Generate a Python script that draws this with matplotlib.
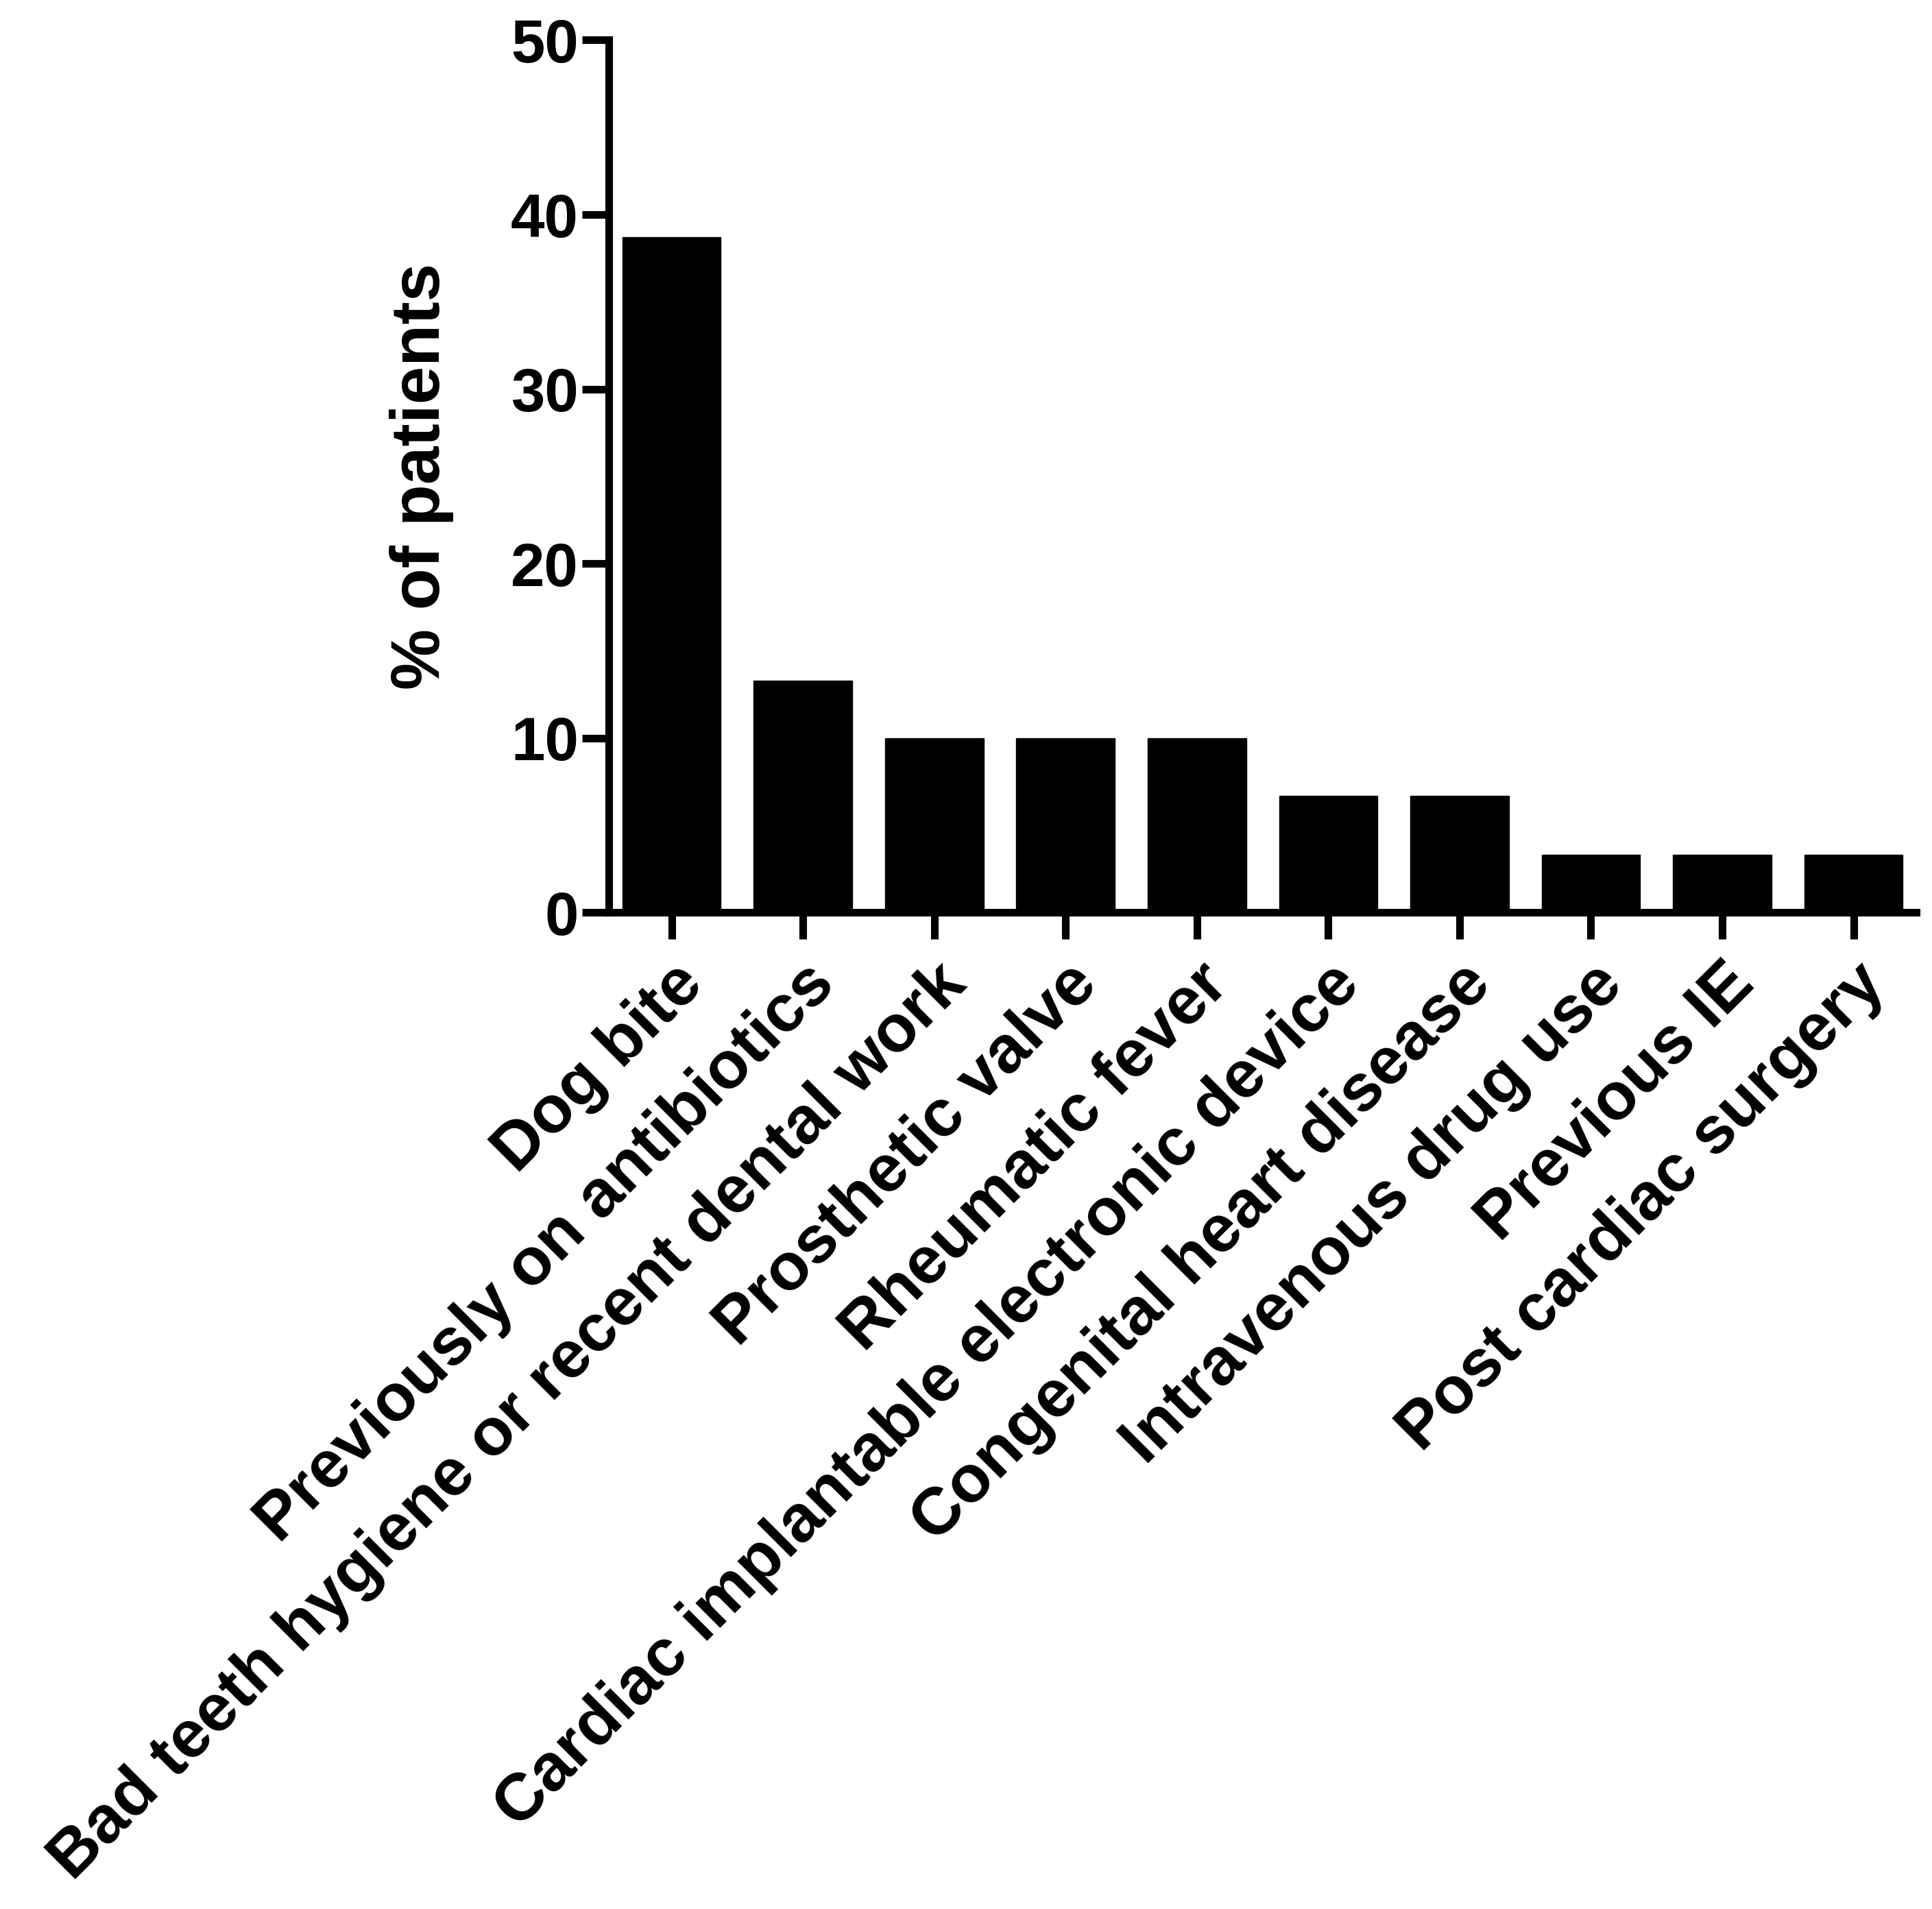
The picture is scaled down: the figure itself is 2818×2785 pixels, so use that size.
import matplotlib
matplotlib.use("Agg")
import matplotlib.pyplot as plt

# DATA ------------------------------------------------------------------------ #
categories = [
    "Dog bite",
    "Previously on antibiotics",
    "Bad teeth hygiene or recent dental work",
    "Prosthetic valve",
    "Rheumatic fever",
    "Cardiac implantable electronic device",
    "Congenital heart disease",
    "Intravenous drug use",
    "Previous IE",
    "Post cardiac surgery",
]
percent_patients = [38.7, 13.3, 10.0, 10.0, 10.0, 6.7, 6.7, 3.3, 3.3, 3.3]
y_ticks = [0, 10, 20, 30, 40, 50]

# PLOT ------------------------------------------------------------------------ #
plt.rcParams["font.family"] = ["Liberation Sans", "DejaVu Sans"]
plt.rcParams["font.weight"] = "bold"

fig = plt.figure(figsize=(28.18, 27.85), dpi=100)
ax = fig.add_axes([0.315, 0.522, 0.677, 0.457])

x = list(range(len(categories)))
ax.bar(x, percent_patients, width=0.75, color="black", edgecolor="black")

ax.set_xlim(-0.48, 9.48)
ax.set_ylim(0, 50)
ax.set_yticks(y_ticks)
ax.set_xticks(x)
ax.set_xticklabels(categories, rotation=45, ha="right", rotation_mode="anchor",
                   fontsize=70, fontweight="bold")
ax.tick_params(axis="y", labelsize=64, width=8, length=28)
ax.tick_params(axis="x", width=8, length=28, pad=14)
for lbl in ax.get_yticklabels():
    lbl.set_fontweight("bold")
ax.set_ylabel("% of patients", fontsize=72, fontweight="bold", labelpad=60)

for side in ["top", "right"]:
    ax.spines[side].set_visible(False)
for side in ["left", "bottom"]:
    ax.spines[side].set_linewidth(8)

fig.savefig("out.png", dpi=100)
